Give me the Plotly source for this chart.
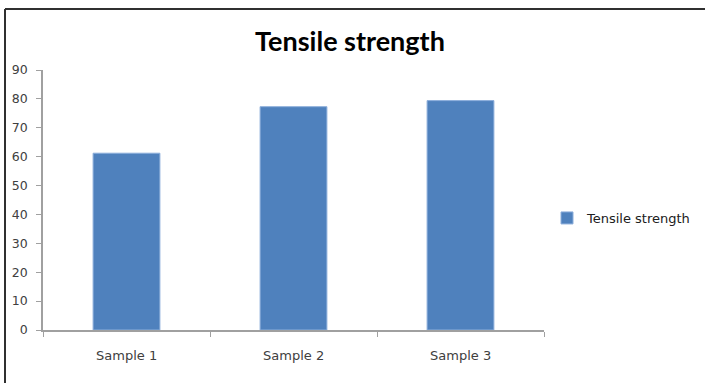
import plotly.graph_objects as go

categories = ["Sample 1", "Sample 2", "Sample 3"]
tensile_strength = [61.2, 77.3, 79.4]
y_ticks = [0, 10, 20, 30, 40, 50, 60, 70, 80, 90]

W, H = 705, 383
L, R, T, B = 43, 161, 70, 53
pw, ph = W - L - R, H - T - B

def px(x):
    return (x - L) / pw

def py(y):
    return (H - B - y) / ph

fig = go.Figure()
fig.add_trace(go.Bar(
    x=categories, y=tensile_strength, name="Tensile strength",
    marker=dict(color="#4F81BD", line=dict(color="#8CAEDB", width=1)),
))

border = dict(color="#303030", width=2)
fig.update_layout(
    width=W, height=H,
    margin=dict(l=L, r=R, t=T, b=B, pad=0, autoexpand=False),
    paper_bgcolor="white", plot_bgcolor="white",
    bargap=0.6,
    title=dict(text="<b>Tensile strength</b>", xref="container", x=350 / W, xanchor="center",
               yref="container", y=1 - 42 / H, yanchor="middle",
               font=dict(family="Lato", size=27, color="black")),
    xaxis=dict(showline=True, linecolor="#A0A0A0", linewidth=1.5,
               ticks="outside", ticklen=5, tickcolor="#A0A0A0",
               tickmode="array", tickvals=[-0.5, 0.5, 1.5, 2.5], ticktext=["", "", "", ""],
               showgrid=False, range=[-0.5, 2.5], fixedrange=True, automargin=False),
    yaxis=dict(showline=True, linecolor="#A0A0A0", linewidth=1.5,
               ticks="outside", ticklen=5, tickcolor="#A0A0A0",
               range=[0, 90], tickvals=y_ticks, showgrid=False, zeroline=False,
               ticklabelstandoff=6, automargin=False,
               tickfont=dict(family="DejaVu Sans", size=12.5, color="#404040")),
    showlegend=True,
    legend=dict(x=px(547), xanchor="left", y=py(218), yanchor="middle",
                font=dict(family="DejaVu Sans", size=13, color="#202020"),
                bgcolor="rgba(0,0,0,0)", itemwidth=30),
    shapes=[
        dict(type="line", xref="paper", yref="paper",
             x0=px(5), y0=py(9), x1=px(705), y1=py(9), line=border),
        dict(type="line", xref="paper", yref="paper",
             x0=px(5), y0=py(9), x1=px(5), y1=py(383), line=border),
    ],
)

for c in categories:
    fig.add_annotation(x=c, y=0, xref="x", yref="y", text=c, showarrow=False,
                       yshift=-25, font=dict(family="DejaVu Sans", size=13, color="#404040"))

fig.write_html("out.html", config={"displayModeBar": False},
               post_script="document.body.style.margin='0';document.body.style.overflow='hidden';")
